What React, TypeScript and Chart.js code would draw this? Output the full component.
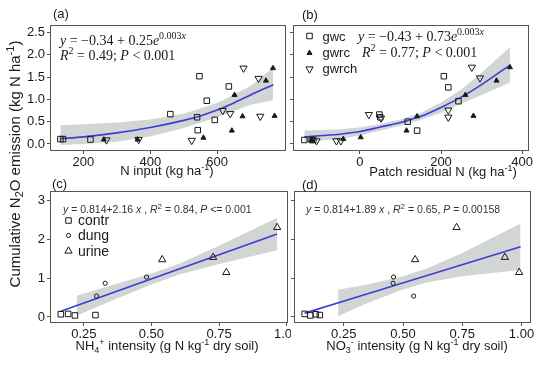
import React, { useEffect, useRef } from 'react';
import { Chart, registerables } from 'chart.js';

Chart.register(...registerables);

const W = 550;
const H = 365;
const SANS = '"Liberation Sans", Arial, Helvetica, sans-serif';
const SERIF = '"Liberation Serif", "Times New Roman", serif';
const INK = '#1a1a1a';
const FRAME = '#555555';
const BLUE = '#3b3bdb';
const BAND = '#d3d5d5';

// ---------- Panel (a): N input ----------
const aXTicks = [200, 400, 600];
const aYTicks = [0, 0.5, 1, 1.5, 2, 2.5];
const aGwcX = [131, 139, 221, 460, 547, 569, 540, 542, 593, 635];
const aGwcY = [0.11, 0.11, 0.1, 0.67, 1.52, 0.97, 0.6, 0.31, 0.54, 1.29];
const aGwrcX = [261, 362, 559, 644, 652, 676, 746, 767, 772];
const aGwrcY = [0.1, 0.1, 0.14, 0.3, 1.1, 0.62, 1.42, 1.7, 0.63];
const aGwrchX = [269, 365, 524, 617, 639, 679, 724, 729];
const aGwrchY = [0.09, 0.1, 0.08, 0.75, 0.68, 1.7, 1.47, 0.62];
const aFitX = [131, 200, 300, 400, 500, 550, 600, 650, 700, 768];
const aFitY = [0.12, 0.16, 0.25, 0.37, 0.53, 0.63, 0.76, 0.92, 1.1, 1.33];
const aBandX = [131, 200, 300, 400, 500, 600, 700, 768];
const aBandHi = [0.42, 0.44, 0.48, 0.55, 0.68, 0.92, 1.3, 1.72];
const aBandLo = [-0.02, 0.0, 0.05, 0.17, 0.36, 0.6, 0.88, 0.98];

// ---------- Panel (b): Patch residual N ----------
const bXTicks = [0, 200, 400];
const bYTicks = [0, 0.5, 1, 1.5, 2, 2.5];
const bGwcX = [-137, -119, -115, 48, 50, 118, 141, 207, 218, 243];
const bGwcY = [0.09, 0.09, 0.09, 0.66, 0.6, 0.5, 0.3, 1.52, 1.27, 0.96];
const bGwrcX = [-119, -41, 2, 115, 141, 260, 280, 337, 370];
const bGwrcY = [0.09, 0.11, 0.15, 0.3, 0.62, 1.1, 0.63, 1.42, 1.72];
const bGwrchX = [-107, -58, -47, 22, 52, 218, 218, 276, 296];
const bGwrchY = [0.07, 0.07, 0.07, 0.66, 0.58, 0.76, 0.6, 1.72, 1.48];
const bFitX = [-137, -50, 0, 50, 100, 150, 200, 250, 300, 370];
const bFitY = [0.16, 0.22, 0.28, 0.38, 0.48, 0.62, 0.82, 1.05, 1.33, 1.77];
const bBandX = [-137, -50, 0, 50, 100, 150, 200, 250, 300, 370];
const bBandHi = [0.3, 0.33, 0.37, 0.45, 0.55, 0.7, 0.93, 1.22, 1.6, 2.17];
const bBandLo = [0.04, 0.12, 0.19, 0.3, 0.41, 0.54, 0.7, 0.9, 1.1, 1.38];

// ---------- Panel (c): NH4+ intensity ----------
const cXTicks = [0.25, 0.5, 0.75, 1.0];
const cYTicks = [0, 1, 2, 3];
const cContrX = [0.165, 0.192, 0.217, 0.293];
const cContrY = [0.07, 0.08, 0.04, 0.05];
const cDungX = [0.297, 0.329, 0.482];
const cDungY = [0.54, 0.87, 1.03];
const cUrineX = [0.54, 0.728, 0.777, 0.965];
const cUrineY = [1.48, 1.54, 1.15, 2.31];
const cFitX = [0.165, 0.965];
const cFitY = [0.15, 2.14];
const cBandX = [0.223, 0.35, 0.5, 0.6, 0.75, 0.965];
const cBandHi = [0.55, 0.81, 1.12, 1.37, 1.84, 2.56];
const cBandLo = [0.03, 0.41, 0.84, 1.09, 1.37, 1.72];

// ---------- Panel (d): NO3- intensity ----------
const dXTicks = [0.25, 0.5, 0.75, 1.0];
const dYTicks = [0, 1, 2, 3];
const dContrX = [0.085, 0.109, 0.132, 0.149];
const dContrY = [0.08, 0.04, 0.07, 0.05];
const dDungX = [0.46, 0.458, 0.545];
const dDungY = [1.03, 0.87, 0.54];
const dUrineX = [0.551, 0.726, 0.93, 0.99];
const dUrineY = [1.48, 2.31, 1.54, 1.15];
const dFitX = [0.085, 0.996];
const dFitY = [0.1, 1.81];
const dBandX = [0.226, 0.35, 0.5, 0.6, 0.75, 0.996];
const dBandHi = [0.7, 0.84, 1.05, 1.25, 1.65, 2.41];
const dBandLo = [0.02, 0.36, 0.71, 0.89, 1.05, 1.21];

type Seg = { t: string; sup?: boolean; sub?: boolean; it?: boolean };

function drawRich(
  ctx: CanvasRenderingContext2D,
  segs: Seg[],
  x: number,
  y: number,
  size: number,
  family: string,
  align: 'left' | 'center',
  rot = 0,
  color = INK
) {
  ctx.save();
  ctx.translate(x, y);
  if (rot) ctx.rotate(rot);
  ctx.fillStyle = color;
  ctx.textBaseline = 'alphabetic';
  ctx.textAlign = 'left';
  const fonts = segs.map(
    (s) => `${s.it ? 'italic ' : ''}${s.sup || s.sub ? Math.round(size * 0.72) : size}px ${family}`
  );
  const widths = segs.map((s, i) => {
    ctx.font = fonts[i];
    return ctx.measureText(s.t).width;
  });
  const total = widths.reduce((a, b) => a + b, 0);
  let cx = align === 'center' ? -total / 2 : 0;
  segs.forEach((s, i) => {
    ctx.font = fonts[i];
    const dy = s.sup ? -size * 0.4 : s.sub ? size * 0.25 : 0;
    ctx.fillText(s.t, cx, dy);
    cx += widths[i];
  });
  ctx.restore();
}

function symRect(ctx: CanvasRenderingContext2D, x: number, y: number, r: number) {
  const s = Math.SQRT1_2 * r;
  ctx.beginPath();
  ctx.rect(x - s, y - s, 2 * s, 2 * s);
  ctx.stroke();
}
function symTri(ctx: CanvasRenderingContext2D, x: number, y: number, r: number, down: boolean, fill: boolean) {
  let rad = down ? Math.PI : 0;
  ctx.beginPath();
  for (let k = 0; k < 3; k++) {
    const px = x + Math.sin(rad) * r;
    const py = y - Math.cos(rad) * r;
    if (k === 0) ctx.moveTo(px, py);
    else ctx.lineTo(px, py);
    rad += (2 * Math.PI) / 3;
  }
  ctx.closePath();
  if (fill) ctx.fill();
  ctx.stroke();
}
function symCircle(ctx: CanvasRenderingContext2D, x: number, y: number, r: number) {
  ctx.beginPath();
  ctx.arc(x, y, r, 0, Math.PI * 2);
  ctx.stroke();
}

const pts = (xs: number[], ys: number[]) => xs.map((x, i) => ({ x, y: ys[i] }));

function bandSets(xs: number[], hi: number[], lo: number[]) {
  return [
    {
      type: 'line',
      data: pts(xs, hi),
      fill: '+1',
      backgroundColor: BAND,
      borderColor: 'rgba(0,0,0,0)',
      borderWidth: 0,
      pointRadius: 0,
      order: 3,
    },
    {
      type: 'line',
      data: pts(xs, lo),
      fill: false,
      borderColor: 'rgba(0,0,0,0)',
      borderWidth: 0,
      pointRadius: 0,
      order: 3,
    },
  ];
}
function fitSet(xs: number[], ys: number[]) {
  return {
    type: 'line',
    data: pts(xs, ys),
    borderColor: BLUE,
    borderWidth: 1.6,
    pointRadius: 0,
    fill: false,
    cubicInterpolationMode: 'monotone',
    order: 2,
  };
}
function pointSet(xs: number[], ys: number[], style: string, r: number, filled: boolean, rotation = 0) {
  return {
    type: 'scatter',
    data: pts(xs, ys),
    pointStyle: style,
    pointRadius: r,
    pointRotation: rotation,
    pointBorderWidth: 1,
    borderWidth: 1,
    pointBorderColor: INK,
    borderColor: INK,
    pointBackgroundColor: filled ? INK : 'rgba(0,0,0,0)',
    backgroundColor: filled ? INK : 'rgba(0,0,0,0)',
    order: 1,
    clip: false,
  };
}

interface PanelCfg {
  id: string;
  box: [number, number, number, number];
  xr: [number, number];
  yr: [number, number];
  xTicks: number[];
  yTicks: number[];
  xFmt: (v: number) => string;
  yFmt: (v: number) => string;
  yLabels: boolean;
  datasets: any[];
  before?: (ctx: CanvasRenderingContext2D) => void;
  after: (ctx: CanvasRenderingContext2D) => void;
}

const SUP_M1: Seg = { t: '-1', sup: true };

const panels: PanelCfg[] = [
  {
    id: 'a',
    box: [50, 25, 286, 151],
    xr: [100, 806],
    yr: [-0.157, 2.668],
    xTicks: aXTicks,
    yTicks: aYTicks,
    xFmt: (v) => String(v),
    yFmt: (v) => v.toFixed(1),
    yLabels: true,
    datasets: [
      ...bandSets(aBandX, aBandHi, aBandLo),
      fitSet(aFitX, aFitY),
      pointSet(aGwcX, aGwcY, 'rect', 3.9, false),
      pointSet(aGwrcX, aGwrcY, 'triangle', 2.9, true),
      pointSet(aGwrchX, aGwrchY, 'triangle', 4.2, false, 180),
    ],
    after: (ctx) => {
      drawRich(ctx, [{ t: '(a)' }], 53, 18, 13, SANS, 'left');
      drawRich(
        ctx,
        [{ t: 'y', it: true }, { t: ' = −0.34 + 0.25' }, { t: 'e', it: true }, { t: '0.003', sup: true }, { t: 'x', sup: true, it: true }],
        60, 45, 14, SERIF, 'left'
      );
      drawRich(
        ctx,
        [{ t: 'R', it: true }, { t: '2', sup: true }, { t: ' = 0.49; ' }, { t: 'P', it: true }, { t: ' < 0.001' }],
        60, 60, 14, SERIF, 'left'
      );
      drawRich(ctx, [{ t: 'N input (kg ha' }, SUP_M1, { t: ')' }], 167, 175, 13, SANS, 'center');
      drawRich(
        ctx,
        [{ t: 'Cumulative N' }, { t: '2', sub: true }, { t: 'O emission (kg N ha' }, SUP_M1, { t: ')' }],
        19.5, 164, 15, SANS, 'center', -Math.PI / 2
      );
    },
  },
  {
    id: 'b',
    box: [293, 25, 529, 151],
    xr: [-165, 417],
    yr: [-0.157, 2.668],
    xTicks: bXTicks,
    yTicks: bYTicks,
    xFmt: (v) => String(v),
    yFmt: (v) => v.toFixed(1),
    yLabels: false,
    datasets: [
      ...bandSets(bBandX, bBandHi, bBandLo),
      fitSet(bFitX, bFitY),
      pointSet(bGwcX, bGwcY, 'rect', 3.9, false),
      pointSet(bGwrcX, bGwrcY, 'triangle', 2.9, true),
      pointSet(bGwrchX, bGwrchY, 'triangle', 4.2, false, 180),
    ],
    after: (ctx) => {
      drawRich(ctx, [{ t: '(b)' }], 302, 19, 13, SANS, 'left');
      ctx.save();
      ctx.strokeStyle = INK;
      ctx.fillStyle = INK;
      ctx.lineWidth = 1;
      symRect(ctx, 309.5, 36, 3.9);
      symTri(ctx, 309.5, 53, 2.9, false, true);
      symTri(ctx, 309.5, 69, 4.2, true, false);
      ctx.restore();
      drawRich(ctx, [{ t: 'gwc' }], 322.5, 40.5, 13, SANS, 'left');
      drawRich(ctx, [{ t: 'gwrc' }], 322.5, 56.5, 13, SANS, 'left');
      drawRich(ctx, [{ t: 'gwrch' }], 322.5, 72.5, 13, SANS, 'left');
      drawRich(
        ctx,
        [{ t: 'y', it: true }, { t: ' = −0.43 + 0.73' }, { t: 'e', it: true }, { t: '0.003', sup: true }, { t: 'x', sup: true, it: true }],
        358, 41, 14, SERIF, 'left'
      );
      drawRich(
        ctx,
        [{ t: 'R', it: true }, { t: '2', sup: true }, { t: ' = 0.77; ' }, { t: 'P', it: true }, { t: ' < 0.001' }],
        362, 57, 14, SERIF, 'left'
      );
      drawRich(ctx, [{ t: 'Patch residual N (kg ha' }, SUP_M1, { t: ')' }], 443, 176, 13, SANS, 'center');
    },
  },
  {
    id: 'c',
    box: [50, 191, 288, 323],
    xr: [0.125, 1.005],
    yr: [-0.155, 3.25],
    xTicks: cXTicks,
    yTicks: cYTicks,
    xFmt: (v) => v.toFixed(2),
    yFmt: (v) => String(v),
    yLabels: true,
    datasets: [
      ...bandSets(cBandX, cBandHi, cBandLo),
      fitSet(cFitX, cFitY),
      pointSet(cContrX, cContrY, 'rect', 3.9, false),
      pointSet(cDungX, cDungY, 'circle', 2.1, false),
      pointSet(cUrineX, cUrineY, 'triangle', 4.2, false),
    ],
    after: (ctx) => {
      drawRich(ctx, [{ t: '(c)' }], 52, 188, 13, SANS, 'left');
      drawRich(
        ctx,
        [
          { t: 'y', it: true }, { t: ' = 0.814+2.16 ' }, { t: 'x', it: true }, { t: ' , ' },
          { t: 'R', it: true }, { t: '2', sup: true }, { t: ' = 0.84, ' }, { t: 'P', it: true }, { t: ' <= 0.001' },
        ],
        63, 213, 10.5, SANS, 'left', 0, '#333'
      );
      ctx.save();
      ctx.strokeStyle = INK;
      ctx.lineWidth = 1;
      symRect(ctx, 68.5, 220.5, 3.9);
      symCircle(ctx, 68.5, 235.5, 2.1);
      symTri(ctx, 68.5, 251, 4.2, false, false);
      ctx.restore();
      drawRich(ctx, [{ t: 'contr' }], 78, 225, 14, SANS, 'left');
      drawRich(ctx, [{ t: 'dung' }], 78, 240, 14, SANS, 'left');
      drawRich(ctx, [{ t: 'urine' }], 78, 255.5, 14, SANS, 'left');
      drawRich(
        ctx,
        [{ t: 'NH' }, { t: '4', sub: true }, { t: '+', sup: true }, { t: ' intensity (g N kg' }, SUP_M1, { t: ' dry soil)' }],
        167, 350, 13, SANS, 'center'
      );
    },
  },
  {
    id: 'd',
    box: [294, 191, 531, 323],
    xr: [0.04, 1.04],
    yr: [-0.155, 3.25],
    xTicks: dXTicks,
    yTicks: dYTicks,
    xFmt: (v) => v.toFixed(2),
    yFmt: (v) => String(v),
    yLabels: false,
    datasets: [
      ...bandSets(dBandX, dBandHi, dBandLo),
      fitSet(dFitX, dFitY),
      pointSet(dContrX, dContrY, 'rect', 3.9, false),
      pointSet(dDungX, dDungY, 'circle', 2.1, false),
      pointSet(dUrineX, dUrineY, 'triangle', 4.2, false),
    ],
    before: (ctx) => {
      ctx.save();
      ctx.fillStyle = '#ffffff';
      ctx.fillRect(291, 182, W - 291, H - 182);
      ctx.restore();
    },
    after: (ctx) => {
      drawRich(ctx, [{ t: '(d)' }], 302, 189, 13, SANS, 'left');
      drawRich(
        ctx,
        [
          { t: 'y', it: true }, { t: ' = 0.814+1.89 ' }, { t: 'x', it: true }, { t: ' , ' },
          { t: 'R', it: true }, { t: '2', sup: true }, { t: ' = 0.65, ' }, { t: 'P', it: true }, { t: ' = 0.00158' },
        ],
        306, 213, 10.5, SANS, 'left', 0, '#333'
      );
      drawRich(
        ctx,
        [{ t: 'NO' }, { t: '3', sub: true }, { t: '-', sup: true }, { t: ' intensity (g N kg' }, SUP_M1, { t: ' dry soil)' }],
        417, 350, 13, SANS, 'center'
      );
    },
  },
];

function makeChart(canvas: HTMLCanvasElement, p: PanelCfg) {
  const [L, T, R, B] = p.box;
  const YW = 30;
  const XH = 30;
  const plugin = {
    id: 'panel_' + p.id,
    beforeDraw(chart: any) {
      if (p.before) p.before(chart.ctx);
    },
    afterDraw(chart: any) {
      const ctx = chart.ctx as CanvasRenderingContext2D;
      const a = chart.chartArea;
      ctx.save();
      ctx.strokeStyle = FRAME;
      ctx.lineWidth = 1;
      ctx.strokeRect(Math.round(a.left) + 0.5, Math.round(a.top) + 0.5, Math.round(a.right - a.left) - 1, Math.round(a.bottom - a.top) - 1);
      ctx.restore();
      p.after(ctx);
    },
  };
  const gridCfg = {
    display: true,
    drawOnChartArea: false,
    drawTicks: true,
    tickLength: 3,
    tickColor: FRAME,
    color: FRAME,
    lineWidth: 1,
  };
  return new Chart(canvas, {
    type: 'scatter',
    data: { datasets: p.datasets as any },
    plugins: [plugin],
    options: {
      responsive: false,
      animation: false,
      devicePixelRatio: 1,
      events: [],
      layout: {
        autoPadding: false,
        padding: { left: L - YW, top: T, right: W - R, bottom: H - B - XH },
      },
      plugins: {
        legend: { display: false },
        tooltip: { enabled: false },
        title: { display: false },
      },
      scales: {
        x: {
          type: 'linear',
          position: 'bottom',
          min: p.xr[0],
          max: p.xr[1],
          afterBuildTicks: (s: any) => {
            s.ticks = p.xTicks.map((v) => ({ value: v }));
          },
          afterFit: (s: any) => {
            s.height = XH;
          },
          grid: gridCfg,
          border: { display: false },
          ticks: {
            font: { family: SANS, size: 13 },
            color: INK,
            padding: 1,
            autoSkip: false,
            maxRotation: 0,
            minRotation: 0,
            callback: (v: any) => p.xFmt(Number(v)),
          },
        },
        y: {
          type: 'linear',
          position: 'left',
          min: p.yr[0],
          max: p.yr[1],
          afterBuildTicks: (s: any) => {
            s.ticks = p.yTicks.map((v) => ({ value: v }));
          },
          afterFit: (s: any) => {
            s.width = YW;
          },
          grid: gridCfg,
          border: { display: false },
          ticks: {
            display: p.yLabels,
            font: { family: SANS, size: 13 },
            color: INK,
            padding: 2,
            autoSkip: false,
            callback: (v: any) => p.yFmt(Number(v)),
          },
        },
      },
    } as any,
  });
}

export default function App() {
  const refs = [
    useRef<HTMLCanvasElement>(null),
    useRef<HTMLCanvasElement>(null),
    useRef<HTMLCanvasElement>(null),
    useRef<HTMLCanvasElement>(null),
  ];
  useEffect(() => {
    const charts = panels.map((p, i) => makeChart(refs[i].current as HTMLCanvasElement, p));
    return () => charts.forEach((c) => c.destroy());
  }, []);
  return (
    <div style={{ position: 'absolute', left: 0, top: 0, width: W, height: H, background: '#ffffff', overflow: 'hidden' }}>
      {panels.map((p, i) => (
        <canvas
          key={p.id}
          ref={refs[i]}
          width={W}
          height={H}
          style={{ position: 'absolute', left: 0, top: 0, width: W, height: H }}
        />
      ))}
    </div>
  );
}
